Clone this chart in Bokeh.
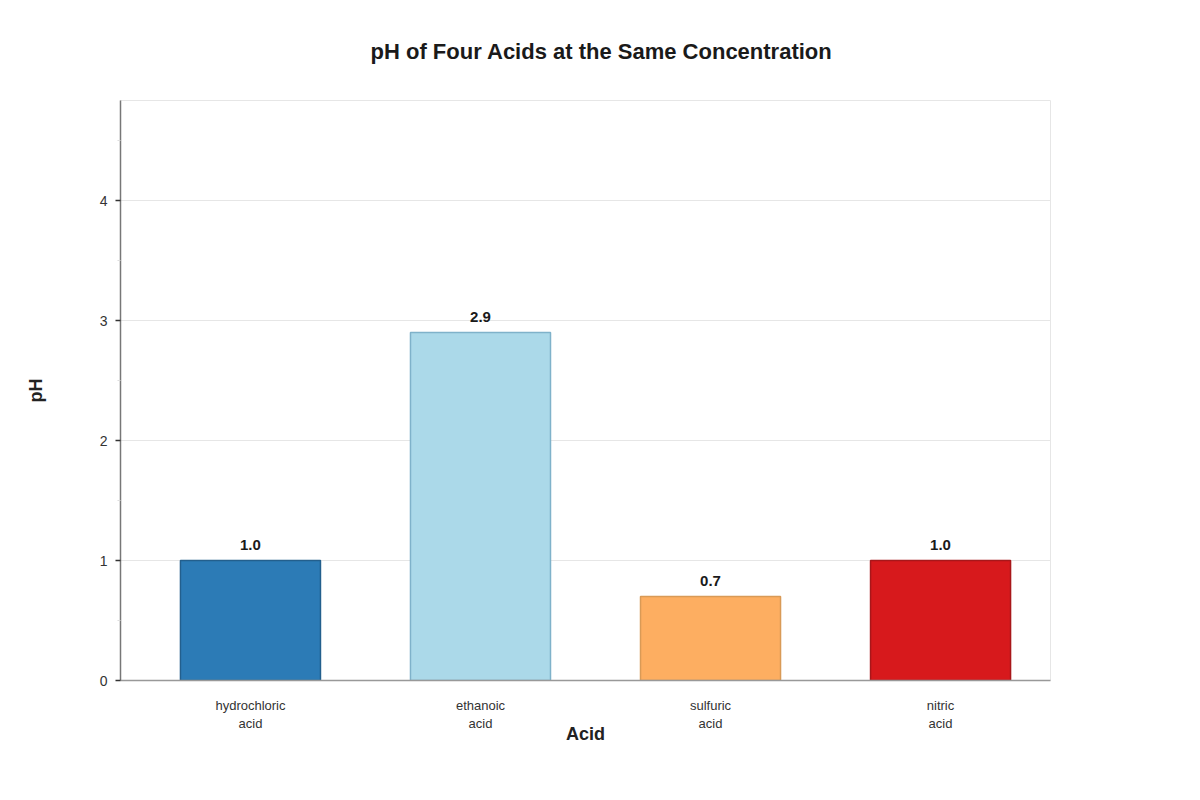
from bokeh.plotting import figure
from bokeh.models import ColumnDataSource, Range1d, FixedTicker, LabelSet
from bokeh.core.properties import value
from bokeh.embed import file_html
from bokeh.resources import INLINE

acids = ["hydrochloric\nacid", "ethanoic\nacid", "sulfuric\nacid", "nitric\nacid"]
ph = [1.0, 2.9, 0.7, 1.0]
fill_colors = ["#2c7bb6", "#abd9e9", "#fdae61", "#d7191c"]
line_colors = ["#235f8d", "#7fb2ca", "#d99a56", "#a8171a"]

xs = list(range(len(acids)))
src = ColumnDataSource(dict(
    x=xs, ph=ph, fill=fill_colors, line=line_colors,
    lbl=["%.1f" % v for v in ph],
))

FONT = "Liberation Sans"

p = figure(
    width=1184, height=784,
    output_backend="svg", toolbar_location=None,
    x_range=Range1d(-0.565, 3.478),
    y_range=Range1d(0, max(ph) / 0.6),
    min_border_left=120, min_border_right=134,
    min_border_top=100, min_border_bottom=104,
    title="pH of Four Acids at the Same Concentration",
)

p.vbar(x="x", top="ph", width=140 / 230, source=src,
       fill_color="fill", line_color="line", line_width=1.5)

labels = LabelSet(x="x", y="ph", text="lbl", source=src,
                  text_align="center", text_baseline="bottom", y_offset=11,
                  text_font=value(FONT), text_font_size="15px", text_font_style="bold",
                  text_color="#1a1a1a")
p.add_layout(labels)

# the title sits in the middle of its panel; 73 keeps the panel within the top border
p.title.text_font = FONT
p.title.text_font_size = "22px"
p.title.text_color = "#1a1a1a"
p.title.align = "left"
p.title.offset = 250
p.title.standoff = 73

p.outline_line_color = "#e6e6e6"
p.background_fill_color = "white"
p.border_fill_color = "white"

p.xgrid.grid_line_color = None
p.ygrid.grid_line_color = "#e6e6e6"
p.ygrid.ticker = FixedTicker(ticks=[1, 2, 3, 4])

xa = p.xaxis[0]
xa.ticker = FixedTicker(ticks=xs)
xa.major_label_overrides = {i: a for i, a in enumerate(acids)}
xa.major_tick_line_color = None
xa.minor_tick_line_color = None
xa.axis_line_color = "#999999"
xa.axis_line_width = 1.5
xa.major_label_text_font = FONT
xa.major_label_text_font_size = "13px"
xa.major_label_text_color = "#333333"
xa.major_label_standoff = 11
xa.axis_label = "Acid"
xa.axis_label_text_font = FONT
xa.axis_label_text_font_size = "18px"
xa.axis_label_text_font_style = "bold"
xa.axis_label_text_color = "#222222"
xa.axis_label_standoff = -10

ya = p.yaxis[0]
ya.ticker = FixedTicker(ticks=[0, 1, 2, 3, 4], minor_ticks=[0.5, 1.5, 2.5, 3.5, 4.5])
ya.axis_line_color = "#777777"
ya.axis_line_width = 1.5
ya.major_tick_line_color = "#333333"
ya.major_tick_line_width = 1.5
ya.major_tick_out = 5
ya.major_tick_in = 0
ya.minor_tick_line_color = "#dddddd"
ya.minor_tick_out = 3
ya.minor_tick_in = 0
ya.major_label_text_font = FONT
ya.major_label_text_font_size = "14px"
ya.major_label_text_color = "#333333"
ya.major_label_standoff = 8
ya.axis_label = "pH"
ya.axis_label_text_font = FONT
ya.axis_label_text_font_size = "18px"
ya.axis_label_text_font_style = "bold"
ya.axis_label_text_color = "#222222"
ya.axis_label_standoff = 51

open("out.html", "w").write(file_html(p, INLINE))
